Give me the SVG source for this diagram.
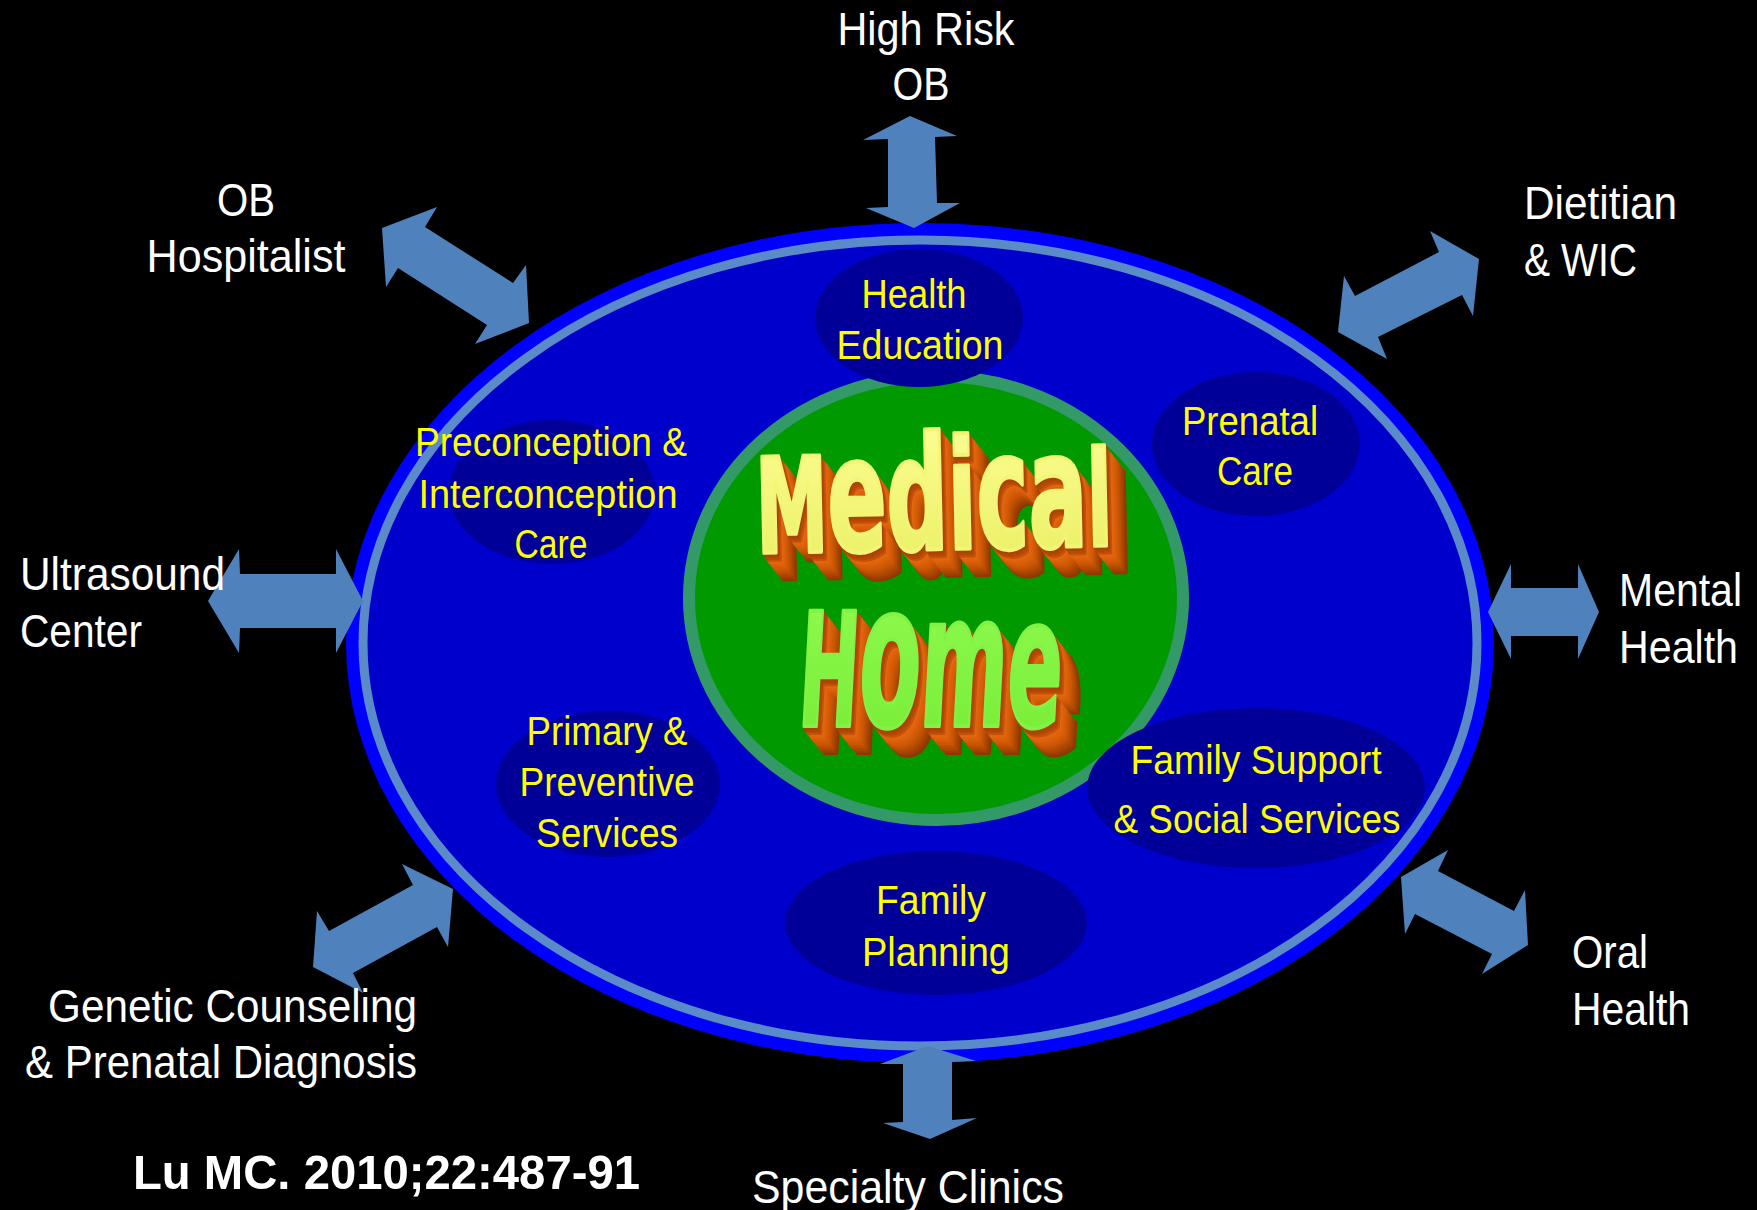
<svg xmlns="http://www.w3.org/2000/svg" width="1757" height="1210" viewBox="0 0 1757 1210">
<style>
.w{font-family:"Liberation Sans Narrow","Arial Narrow","Liberation Sans",sans-serif;font-size:46px;fill:#FFFFFF}
.y{font-family:"Liberation Sans Narrow","Arial Narrow","Liberation Sans",sans-serif;font-size:40px;fill:#FFFF00;text-anchor:middle}
.arr{fill:#4F81BD}
.sub{fill:#000099}
.big{font-family:"DejaVu Sans Condensed","DejaVu Sans",sans-serif;font-weight:bold;font-stretch:condensed;stroke-width:4;stroke-linejoin:round}
.e1{fill:#8E3800;stroke:#8E3800}
.e2{fill:#9A3E00;stroke:#9A3E00}
.e3{fill:#A64400;stroke:#A64400}
.e4{fill:#B24A02;stroke:#B24A02}
.e5{fill:#BE5004;stroke:#BE5004}
.e6{fill:#C85606;stroke:#C85606}
.e7{fill:#D05A08;stroke:#D05A08}
.e8{fill:#D85E0A;stroke:#D85E0A}
.e9{fill:#DE620C;stroke:#DE620C}
.e10{fill:#E2660E;stroke:#E2660E}
.e11{fill:#C65208;stroke:#C65208}
.e12{fill:#B44806;stroke:#B44806}
.e13{fill:#A84404;stroke:#A84404}
.fm{fill:url(#gMed);stroke:#F2F575}
.fh{fill:url(#gHome);stroke:#84F244}
</style>
<defs>
<text id="medT" class="big" x="0" y="0" textLength="356" lengthAdjust="spacingAndGlyphs"><tspan font-size="132">M</tspan><tspan font-size="160">e</tspan><tspan font-size="158">d</tspan><tspan font-size="152">i</tspan><tspan font-size="162">c</tspan><tspan font-size="160">a</tspan><tspan font-size="132">l</tspan></text>
<text id="homeT" class="big" x="0" y="0" textLength="263" lengthAdjust="spacingAndGlyphs"><tspan font-size="158">H</tspan><tspan font-size="200">o</tspan><tspan font-size="185">m</tspan><tspan font-size="180">e</tspan></text>
<linearGradient id="gMed" x1="0" y1="0" x2="0" y2="1">
<stop offset="0" stop-color="#FFFF9A"/><stop offset="1" stop-color="#E8EE5E"/>
</linearGradient>
<linearGradient id="gHome" x1="0" y1="0" x2="0" y2="1">
<stop offset="0" stop-color="#96FF55"/><stop offset="1" stop-color="#74EA34"/>
</linearGradient>
</defs>
<rect x="0" y="0" width="1757" height="1210" fill="#000000"/>

<g id="main-ellipse">
<ellipse cx="920" cy="643" rx="574" ry="420" fill="#0000FF"/>
<ellipse cx="920" cy="643" rx="557" ry="403" fill="#0000CC" stroke="#5A8AC8" stroke-width="9"/>
</g>

<g id="medical-home-circle">
<ellipse cx="936" cy="598" rx="247" ry="222" fill="#009900" stroke="#339966" stroke-width="12"/>
</g>

<g id="health-education">
<ellipse class="sub" cx="919" cy="318" rx="104" ry="69"/>
<text class="y" x="914" y="308" textLength="105" lengthAdjust="spacingAndGlyphs">Health</text>
<text class="y" x="920" y="359" textLength="167" lengthAdjust="spacingAndGlyphs">Education</text>
</g>
<g id="prenatal-care">
<ellipse class="sub" cx="1256" cy="444" rx="104" ry="72"/>
<text class="y" x="1250" y="435" textLength="136" lengthAdjust="spacingAndGlyphs">Prenatal</text>
<text class="y" x="1255" y="485" textLength="76" lengthAdjust="spacingAndGlyphs">Care</text>
</g>
<g id="preconception">
<ellipse class="sub" cx="552" cy="492" rx="103" ry="72"/>
<text class="y" x="551" y="456" textLength="272" lengthAdjust="spacingAndGlyphs">Preconception &amp;</text>
<text class="y" x="548" y="508" textLength="259" lengthAdjust="spacingAndGlyphs">Interconception</text>
<text class="y" x="551" y="558" textLength="73" lengthAdjust="spacingAndGlyphs">Care</text>
</g>
<g id="primary-preventive">
<ellipse class="sub" cx="608" cy="784" rx="112" ry="73"/>
<text class="y" x="607" y="745" textLength="161" lengthAdjust="spacingAndGlyphs">Primary &amp;</text>
<text class="y" x="607" y="796" textLength="175" lengthAdjust="spacingAndGlyphs">Preventive</text>
<text class="y" x="607" y="847" textLength="142" lengthAdjust="spacingAndGlyphs">Services</text>
</g>
<g id="family-support">
<ellipse class="sub" cx="1256" cy="788" rx="169" ry="80"/>
<text class="y" x="1256" y="774" textLength="251" lengthAdjust="spacingAndGlyphs">Family Support</text>
<text class="y" x="1257" y="833" textLength="287" lengthAdjust="spacingAndGlyphs">&amp; Social Services</text>
</g>
<g id="family-planning">
<ellipse class="sub" cx="936" cy="923" rx="151" ry="72"/>
<text class="y" x="931" y="914" textLength="110" lengthAdjust="spacingAndGlyphs">Family</text>
<text class="y" x="936" y="966" textLength="148" lengthAdjust="spacingAndGlyphs">Planning</text>
</g>

<g id="medical-home-title">
<g transform="translate(757,553) rotate(-1.2)">
<use href="#medT" class="e1" x="19" y="27"/>
<use href="#medT" class="e2" x="17.5" y="25"/>
<use href="#medT" class="e3" x="16" y="23"/>
<use href="#medT" class="e4" x="14.5" y="21"/>
<use href="#medT" class="e5" x="13" y="19"/>
<use href="#medT" class="e6" x="11.5" y="17"/>
<use href="#medT" class="e7" x="10" y="15"/>
<use href="#medT" class="e8" x="8.5" y="13"/>
<use href="#medT" class="e9" x="7" y="11"/>
<use href="#medT" class="e10" x="5.5" y="9"/>
<use href="#medT" class="e11" x="4" y="7"/>
<use href="#medT" class="e12" x="2.5" y="5"/>
<use href="#medT" class="e13" x="1.2" y="2.5"/>
<use href="#medT" class="fm" x="0" y="0"/>
</g>
<g transform="translate(797,726) skewX(-3)">
<use href="#homeT" class="e1" x="22" y="27"/>
<use href="#homeT" class="e2" x="20" y="25"/>
<use href="#homeT" class="e3" x="18.3" y="23"/>
<use href="#homeT" class="e4" x="16.6" y="21"/>
<use href="#homeT" class="e5" x="14.9" y="19"/>
<use href="#homeT" class="e6" x="13.2" y="17"/>
<use href="#homeT" class="e7" x="11.5" y="15"/>
<use href="#homeT" class="e8" x="9.8" y="13"/>
<use href="#homeT" class="e9" x="8.1" y="11"/>
<use href="#homeT" class="e10" x="6.4" y="9"/>
<use href="#homeT" class="e11" x="4.7" y="7"/>
<use href="#homeT" class="e12" x="3" y="5"/>
<use href="#homeT" class="e13" x="1.4" y="2.5"/>
<use href="#homeT" class="fh" x="0" y="0"/>
</g>
</g>

<g id="connectors">
<polygon class="arr" points="910,116 957,136 935,137 937,203 960,203 914,228 866,208 888,207 888,139 863,140"/>
<polygon class="arr" points="382,228 437,207 425,227 513,283 526,265 529,323 475,344 487,325 398,268 386,287"/>
<polygon class="arr" points="1479,259 1430,231 1439,252 1355,296 1344,276 1338,332 1387,359 1378,337 1462,295 1473,316"/>
<polygon class="arr" points="208,601 239,549 240,574 336,574 336,549 363,601 336,653 336,628 240,628 239,653"/>
<polygon class="arr" points="1488,612 1511,564 1511,588 1578,588 1578,564 1599,612 1578,659 1578,636 1511,636 1511,659"/>
<polygon class="arr" points="453,889 402,864 413,885 329,931 317,911 313,967 363,993 353,973 437,927 448,947"/>
<polygon class="arr" points="1401,877 1448,850 1438,871 1514,911 1525,890 1528,945 1482,974 1492,954 1415,914 1405,934"/>
<polygon class="arr" points="928,1046 976,1061 952,1062 952,1120 977,1118 930,1139 883,1123 903,1122 903,1064 880,1064"/>
</g>

<g id="high-risk-ob">
<text class="w" x="926" y="45" text-anchor="middle" textLength="177" lengthAdjust="spacingAndGlyphs">High Risk</text>
<text class="w" x="921" y="100" text-anchor="middle" textLength="57" lengthAdjust="spacingAndGlyphs">OB</text>
</g>
<g id="ob-hospitalist">
<text class="w" x="246" y="216" text-anchor="middle" textLength="58" lengthAdjust="spacingAndGlyphs">OB</text>
<text class="w" x="246" y="272" text-anchor="middle" textLength="199" lengthAdjust="spacingAndGlyphs">Hospitalist</text>
</g>
<g id="dietitian-wic">
<text class="w" x="1524" y="219" textLength="153" lengthAdjust="spacingAndGlyphs">Dietitian</text>
<text class="w" x="1524" y="276" textLength="113" lengthAdjust="spacingAndGlyphs">&amp; WIC</text>
</g>
<g id="ultrasound-center">
<text class="w" x="20" y="590" textLength="205" lengthAdjust="spacingAndGlyphs">Ultrasound</text>
<text class="w" x="20" y="647" textLength="122" lengthAdjust="spacingAndGlyphs">Center</text>
</g>
<g id="mental-health">
<text class="w" x="1619" y="606" textLength="123" lengthAdjust="spacingAndGlyphs">Mental</text>
<text class="w" x="1619" y="663" textLength="119" lengthAdjust="spacingAndGlyphs">Health</text>
</g>
<g id="genetic-counseling">
<text class="w" x="417" y="1022" text-anchor="end" textLength="369" lengthAdjust="spacingAndGlyphs">Genetic Counseling</text>
<text class="w" x="417" y="1078" text-anchor="end" textLength="392" lengthAdjust="spacingAndGlyphs">&amp; Prenatal Diagnosis</text>
</g>
<g id="oral-health">
<text class="w" x="1572" y="968" textLength="76" lengthAdjust="spacingAndGlyphs">Oral</text>
<text class="w" x="1572" y="1025" textLength="118" lengthAdjust="spacingAndGlyphs">Health</text>
</g>
<g id="specialty-clinics">
<text class="w" x="908" y="1203" text-anchor="middle" textLength="312" lengthAdjust="spacingAndGlyphs">Specialty Clinics</text>
</g>
<g id="citation">
<text x="133" y="1189" font-family="'Liberation Sans',Arial,sans-serif" font-weight="bold" font-size="49" fill="#FFFFFF" textLength="507" lengthAdjust="spacingAndGlyphs">Lu MC. 2010;22:487-91</text>
</g>
</svg>
